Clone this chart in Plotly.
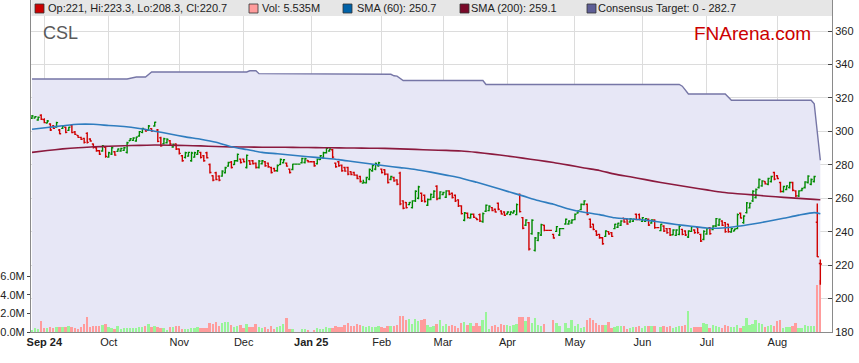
import pandas as pd
import plotly.graph_objects as go

# ---------------- data ----------------
start_date = "2024-08-27"
end_date = "2025-08-21"

opens = [
    307.8, 308.0, 306.8, 309.6, 307.0, 305.0, 304.4, 303.2, 302.6, 300.8,
    301.8, 302.4, 300.6, 303.4, 299.6, 297.6, 296.4, 295.8, 298.8, 295.4,
    292.4, 290.2, 288.4, 288.2, 290.4, 284.6, 286.4, 287.8, 288.0, 288.2,
    288.6, 287.4, 294.4, 294.6, 294.2, 297.2, 299.4, 301.2, 300.6, 301.6,
    303.2, 300.8, 296.2, 292.6, 293.2, 294.4, 290.6, 292.4, 289.4, 285.4,
    284.4, 285.2, 282.4, 284.6, 286.2, 287.4, 285.4, 287.2, 280.2, 273.4,
    275.2, 273.2, 273.2, 275.2, 279.2, 281.6, 280.2, 282.4, 283.4, 283.4,
    278.4, 282.4, 282.4, 281.0, 278.4, 280.6, 281.8, 281.0, 278.4, 277.8,
    276.4, 280.2, 281.2, 281.0, 277.4, 277.2, 280.4, 280.4, 281.2, 281.4,
    282.6, 281.8, 281.8, 280.6, 283.2, 284.4, 287.2, 288.2, 289.0, 281.0,
    281.8, 279.8, 278.4, 278.4, 275.8, 275.4, 273.8, 273.0, 269.0, 269.2,
    271.4, 276.4, 277.4, 279.4, 277.4, 277.0, 274.4, 271.2, 272.4, 271.0,
    275.0, 258.4, 257.4, 256.2, 254.4, 258.4, 260.0, 263.0, 261.8, 255.8,
    259.2, 260.6, 267.2, 260.0, 262.2, 260.6, 264.4, 263.0, 261.8, 259.0,
    255.4, 246.8, 251.0, 248.2, 250.4, 248.0, 250.2, 246.0, 252.2, 252.6,
    254.4, 253.4, 257.0, 252.4, 251.8, 250.6, 250.2, 251.2, 250.2, 262.2,
    248.4, 243.8, 245.4, 238.8, 228.8, 234.8, 238.0, 243.8, 240.8, 240.8,
    238.4, 240.2, 238.0, 241.8, 244.6, 244.6, 245.2, 247.2, 251.2, 253.2,
    256.2, 256.4, 247.4, 244.4, 240.4, 238.4, 236.4, 237.2, 240.0, 239.4,
    241.8, 242.6, 243.8, 248.0, 247.4, 245.8, 246.2, 250.4, 250.2, 246.2,
    246.2, 247.4, 245.2, 247.0, 242.4, 240.6, 243.4, 241.8, 241.8, 238.2,
    237.8, 238.4, 241.4, 240.4, 236.8, 240.2, 241.0, 242.4, 238.4, 235.4,
    238.6, 242.4, 241.2, 243.4, 244.0, 246.4, 245.4, 244.4, 239.8, 240.4,
    241.8, 251.0, 245.4, 251.4, 254.2, 258.4, 260.4, 266.4, 267.4, 270.0,
    268.4, 270.0, 275.4, 273.4, 269.4, 264.0, 265.2, 266.4, 269.4, 264.4,
    261.4, 264.6, 266.4, 269.4, 268.4, 270.0, 245.6, 221.0,
]
highs = [
    309.8, 309.2, 308.8, 310.2, 307.8, 306.8, 304.8, 303.8, 305.8, 301.4,
    303.8, 302.8, 302.8, 303.8, 300.2, 297.8, 296.8, 296.2, 299.4, 295.8,
    292.8, 290.8, 288.8, 291.8, 290.8, 287.8, 290.8, 288.2, 289.8, 290.2,
    290.6, 293.8, 295.8, 296.4, 296.8, 300.2, 302.2, 301.4, 303.8, 301.8,
    305.8, 301.4, 296.8, 296.2, 295.8, 294.8, 292.8, 292.8, 289.8, 285.8,
    287.8, 287.8, 287.8, 287.8, 288.8, 287.8, 285.8, 287.8, 280.8, 273.8,
    275.8, 273.8, 276.8, 278.8, 281.8, 282.2, 282.8, 286.8, 283.8, 283.8,
    286.2, 282.8, 282.8, 281.4, 282.8, 282.8, 282.2, 281.4, 278.8, 278.2,
    280.2, 283.8, 283.4, 281.4, 277.8, 280.6, 280.4, 280.4, 284.2, 284.2,
    282.8, 281.8, 282.2, 283.8, 285.8, 287.8, 290.2, 289.8, 289.4, 281.4,
    282.2, 280.2, 278.8, 278.8, 276.2, 275.8, 274.2, 273.4, 271.0, 272.8,
    277.8, 280.2, 281.4, 281.8, 277.8, 277.4, 274.8, 273.4, 272.8, 271.4,
    275.8, 258.8, 257.8, 257.8, 258.8, 264.8, 267.4, 263.4, 262.2, 259.8,
    262.8, 264.8, 267.8, 264.2, 263.8, 264.8, 264.8, 263.4, 262.2, 259.4,
    255.8, 251.8, 251.4, 250.8, 250.8, 248.2, 250.8, 251.4, 256.2, 255.8,
    254.8, 253.8, 257.4, 252.8, 252.2, 252.2, 252.2, 252.8, 256.8, 262.8,
    248.8, 247.4, 245.8, 247.4, 236.8, 239.8, 244.8, 244.2, 240.8, 240.8,
    238.8, 243.4, 242.2, 241.8, 247.8, 246.8, 247.4, 250.8, 252.8, 256.8,
    258.8, 256.8, 247.8, 244.8, 240.8, 238.8, 236.8, 240.8, 240.2, 239.8,
    244.8, 245.4, 246.8, 248.2, 247.8, 248.2, 247.8, 250.8, 250.8, 248.8,
    248.2, 247.8, 247.4, 247.4, 242.4, 244.8, 243.8, 242.2, 242.2, 241.4,
    241.4, 243.8, 241.8, 240.8, 240.8, 243.4, 241.4, 242.8, 238.8, 240.8,
    242.2, 242.8, 243.8, 248.2, 247.8, 246.8, 245.8, 244.8, 242.2, 241.8,
    250.8, 251.4, 249.8, 257.8, 257.4, 264.8, 265.8, 271.8, 270.8, 270.2,
    272.2, 273.4, 275.8, 273.8, 269.8, 267.4, 267.8, 269.8, 269.8, 264.8,
    264.8, 266.2, 270.2, 273.8, 271.8, 273.4, 256.8, 223.3,
]
lows = [
    307.4, 307.8, 306.4, 306.8, 304.8, 304.8, 300.2, 301.4, 302.2, 298.2,
    301.4, 298.8, 300.2, 298.8, 297.8, 296.2, 294.8, 292.8, 292.8, 293.8,
    289.8, 287.8, 285.8, 287.8, 284.2, 284.2, 285.8, 285.4, 287.8, 287.8,
    288.2, 286.8, 294.2, 294.2, 293.8, 296.8, 298.8, 299.8, 300.2, 299.8,
    302.8, 293.4, 290.8, 292.2, 292.8, 291.8, 290.2, 288.8, 286.2, 281.8,
    283.8, 284.8, 281.8, 284.2, 285.8, 283.8, 281.8, 283.8, 274.8, 270.2,
    270.8, 270.2, 272.8, 274.8, 278.8, 277.8, 279.8, 281.8, 280.8, 281.4,
    277.8, 279.8, 280.2, 277.8, 277.8, 280.2, 278.8, 278.2, 274.8, 275.8,
    275.8, 279.8, 280.8, 278.8, 274.8, 276.8, 280.4, 280.4, 280.8, 280.8,
    281.4, 281.8, 278.8, 280.2, 282.8, 283.8, 286.8, 287.8, 283.8, 278.2,
    278.8, 275.8, 275.8, 273.8, 273.8, 273.4, 271.4, 269.4, 268.8, 268.8,
    270.8, 275.8, 276.8, 278.8, 274.8, 273.8, 268.8, 270.8, 269.8, 267.8,
    255.8, 253.4, 253.8, 255.8, 253.8, 257.8, 259.4, 257.8, 257.4, 255.4,
    258.8, 260.2, 258.8, 259.4, 261.8, 260.2, 261.8, 259.8, 257.8, 254.8,
    250.2, 246.2, 247.8, 247.8, 248.2, 246.8, 245.8, 245.4, 251.8, 252.2,
    252.2, 251.4, 252.8, 250.2, 249.4, 250.2, 249.8, 250.8, 249.8, 251.4,
    241.4, 243.4, 228.8, 238.2, 228.2, 234.2, 237.4, 240.2, 240.8, 240.8,
    235.8, 239.8, 237.4, 241.8, 244.2, 244.2, 244.8, 246.8, 250.8, 252.8,
    255.8, 249.8, 242.2, 240.8, 237.4, 235.8, 232.2, 236.8, 238.2, 236.8,
    241.4, 242.2, 243.4, 245.4, 244.2, 245.4, 245.8, 246.8, 246.8, 245.8,
    245.8, 243.4, 244.8, 241.8, 242.4, 240.2, 239.8, 238.8, 237.4, 237.8,
    237.4, 237.8, 237.8, 237.4, 236.2, 239.8, 238.8, 238.8, 233.8, 234.8,
    238.2, 238.2, 240.8, 242.8, 243.4, 243.4, 239.4, 239.4, 239.4, 240.2,
    241.4, 247.8, 244.8, 250.8, 253.8, 257.8, 259.8, 265.8, 266.8, 268.2,
    267.8, 269.4, 270.8, 271.4, 263.4, 263.4, 264.8, 265.8, 264.2, 260.8,
    260.8, 264.2, 265.8, 268.8, 267.8, 269.4, 224.8, 208.3,
]
closes = [
    309.2, 308.8, 308.4, 307.2, 305.2, 306.2, 300.8, 301.8, 305.2, 298.6,
    303.2, 299.4, 302.4, 299.2, 298.2, 296.4, 295.2, 293.4, 293.4, 294.2,
    290.4, 288.4, 286.4, 291.2, 285.0, 287.2, 290.2, 285.8, 289.4, 289.8,
    290.2, 293.2, 295.6, 296.0, 296.6, 299.8, 301.8, 300.2, 303.2, 300.2,
    305.4, 294.0, 291.4, 295.6, 295.2, 292.4, 292.2, 289.4, 286.8, 282.4,
    287.2, 287.4, 287.0, 287.2, 288.4, 284.4, 282.4, 284.2, 275.4, 270.8,
    271.2, 270.8, 276.2, 278.2, 281.4, 278.4, 282.4, 286.2, 281.4, 281.8,
    285.6, 280.4, 280.6, 278.4, 282.2, 282.4, 279.4, 278.8, 275.4, 276.4,
    279.6, 283.2, 283.0, 279.2, 275.4, 280.4, 280.4, 280.4, 283.8, 283.6,
    281.8, 281.8, 279.4, 283.4, 285.4, 287.2, 289.8, 289.4, 284.6, 278.8,
    279.4, 276.4, 276.2, 274.4, 274.2, 273.8, 271.8, 270.0, 269.4, 272.4,
    277.2, 279.6, 280.8, 281.2, 275.4, 274.4, 269.4, 273.0, 270.4, 268.4,
    256.6, 254.0, 254.4, 257.4, 258.4, 264.2, 266.8, 258.4, 258.0, 259.2,
    262.2, 264.2, 259.6, 263.8, 263.4, 264.4, 262.4, 260.4, 258.4, 255.4,
    250.8, 251.2, 248.4, 250.4, 248.6, 247.2, 246.4, 250.8, 255.8, 255.2,
    252.6, 251.8, 253.4, 250.6, 249.8, 251.8, 251.8, 252.4, 256.2, 252.0,
    242.0, 247.0, 229.6, 246.8, 236.2, 239.2, 244.2, 240.8, 240.8, 240.8,
    236.2, 243.0, 241.8, 241.8, 247.4, 246.4, 247.0, 250.4, 252.4, 256.4,
    258.4, 250.4, 242.8, 241.4, 238.0, 236.4, 232.8, 240.4, 238.6, 237.2,
    244.4, 245.0, 246.4, 245.8, 244.6, 247.8, 247.4, 247.2, 247.4, 248.4,
    247.8, 244.0, 247.0, 242.4, 242.4, 244.4, 240.4, 239.4, 238.0, 241.0,
    241.0, 243.2, 238.4, 238.0, 240.4, 243.0, 239.4, 239.4, 234.4, 240.2,
    241.8, 238.8, 243.4, 247.8, 247.4, 243.8, 240.0, 240.0, 241.8, 241.6,
    250.2, 248.2, 249.4, 257.2, 257.0, 264.2, 265.2, 271.2, 270.4, 268.6,
    271.8, 273.0, 271.4, 271.8, 264.0, 267.0, 267.4, 269.4, 264.8, 261.4,
    264.4, 265.8, 269.8, 273.2, 271.2, 273.0, 225.0, 220.7,
]
volume_m = [
    0.21, 0.43, 0.32, 1.2, 0.43, 0.39, 0.53, 0.43, 0.53, 0.53,
    0.53, 0.53, 0.64, 0.53, 0.43, 0.35, 0.53, 0.85, 1.6, 0.53,
    0.64, 0.64, 0.64, 0.71, 0.85, 0.53, 0.43, 0.35, 0.64, 0.35,
    0.43, 0.43, 0.43, 0.43, 0.43, 0.53, 0.53, 0.64, 0.85, 0.53,
    0.64, 0.53, 0.43, 0.43, 0.25, 0.53, 0.53, 0.64, 0.64, 0.28,
    0.35, 0.28, 0.43, 0.43, 0.53, 0.43, 0.43, 0.43, 0.96, 0.85,
    1.06, 0.64, 0.96, 1.06, 1.06, 0.74, 0.53, 0.64, 0.74, 0.43,
    0.85, 0.53, 0.53, 0.85, 0.53, 0.43, 0.53, 0.28, 0.64, 0.28,
    0.53, 0.64, 0.85, 1.49, 0.32, 0.28, 0.0, 0.0, 0.32, 0.32,
    0.21, 0.0, 0.21, 0.43, 0.32, 0.32, 0.53, 0.43, 0.43, 0.64,
    0.53, 0.53, 0.74, 0.96, 0.64, 0.64, 0.85, 0.74, 0.64, 0.53,
    0.64, 0.53, 0.53, 0.64, 0.53, 0.43, 0.64, 0.64, 0.64, 0.74,
    1.7, 1.7, 1.28, 1.38, 0.85, 1.38, 1.17, 1.28, 1.38, 0.74,
    0.5, 0.6, 0.85, 1.28, 0.64, 0.85, 0.64, 0.71, 0.6, 0.43,
    0.96, 1.06, 0.74, 0.96, 0.64, 0.96, 0.64, 1.28, 2.15, 0.32,
    0.64, 0.74, 0.53, 0.85, 0.71, 0.71, 0.6, 0.71, 0.85, 1.6,
    1.6, 1.17, 1.6, 0.96, 1.49, 0.74, 0.6, 0.85, 0.0, 0.0,
    1.28, 0.92, 0.64, 0.0, 0.96, 0.46, 1.28, 0.64, 0.85, 0.46,
    0.5, 1.28, 1.49, 1.28, 0.96, 0.74, 0.74, 0.74, 1.06, 0.46,
    0.57, 0.6, 0.64, 0.6, 0.32, 0.39, 0.5, 0.57, 0.64, 0.43,
    0.64, 0.6, 0.6, 0.6, 0.0, 0.53, 0.6, 0.5, 0.6, 0.43,
    0.5, 0.6, 0.64, 0.71, 2.2, 0.43, 0.5, 0.5, 0.53, 1.0,
    0.85, 0.46, 0.78, 0.6, 0.5, 0.43, 0.74, 0.6, 0.53, 0.5,
    0.71, 0.46, 0.6, 1.49, 0.78, 0.85, 1.28, 0.96, 0.85, 0.57,
    0.6, 0.74, 0.64, 1.17, 1.24, 0.46, 0.5, 0.57, 0.64, 0.96,
    0.46, 0.43, 0.78, 0.6, 0.6, 0.6, 5.0, 5.535,
]
# moving averages read every 5 trading days (plus the last day)
sma60 = [301.2, 302.3, 303.3, 304.2, 304.2, 303.5, 302.9, 301.7, 300.1, 298.4,
         296.7, 295.3, 293.5, 290.8, 289.1, 287.4, 286.6, 285.7, 284.8, 284.0,
         283.1, 281.8, 280.6, 279.4, 278.3, 277.2, 275.6, 273.8, 272.0, 269.5,
         266.9, 264.1, 261.4, 258.6, 256.4, 253.6, 251.6, 250.2, 248.3, 247.6,
         246.9, 245.6, 244.3, 243.2, 242.2, 242.2, 243.2, 244.6, 246.2, 248.0,
         249.9, 251.4, 250.7]
sma200 = [287.4, 288.5, 289.5, 290.2, 290.8, 291.1, 291.4, 291.6, 291.8, 291.7,
          291.5, 291.3, 290.9, 290.7, 290.6, 290.5, 290.5, 290.4, 290.3, 290.2,
          290.1, 290.0, 289.9, 289.8, 289.5, 289.2, 288.8, 288.6, 288.2, 287.4,
          286.4, 285.2, 284.0, 282.7, 281.4, 279.8, 278.1, 276.6, 274.4, 272.8,
          271.1, 269.4, 267.9, 266.4, 265.0, 263.6, 262.7, 262.0, 261.2, 260.5,
          259.9, 259.3, 259.1]
# consensus target changes
cons_dates = ["2024-08-27", "2024-10-09", "2024-10-14", "2024-10-17", "2024-10-21",
              "2024-12-03", "2024-12-04", "2024-12-06", "2024-12-09", "2025-01-16",
              "2025-01-17", "2025-02-06", "2025-02-07", "2025-02-10", "2025-02-12",
              "2025-03-20", "2025-03-21", "2025-06-18", "2025-06-19", "2025-06-23",
              "2025-07-09", "2025-07-11", "2025-08-18", "2025-08-19", "2025-08-21"]
cons_values = [331.3, 331.3, 332.5, 332.5, 335.5,
               335.5, 336.2, 336.2, 334.5, 334.5,
               334.1, 334.1, 333.2, 333.0, 330.4,
               330.4, 328.0, 328.0, 327.0, 322.3,
               322.3, 318.6, 318.6, 316.5, 282.7]
price_ticks = [180, 200, 220, 240, 260, 280, 300, 320, 340, 360]
vol_ticks_m = [0, 2, 4, 6]
vol_tick_text = ["0.0M", "2.0M", "4.0M", "6.0M"]
legend_texts = ["Op:221, Hi:223.3, Lo:208.3, Cl:220.7", "Vol: 5.535M",
                "SMA (60): 250.7", "SMA (200): 259.1", "Consensus Target: 0 - 282.7"]

# ---------------- build ----------------
dates = pd.bdate_range(start_date, end_date)
n = len(closes)
xi = list(range(n))
pos = {d.strftime("%Y-%m-%d"): i for i, d in enumerate(dates)}
cons_x = [pos[d] for d in cons_dates]
sma_x = list(range(0, n - 2, 5)) + [n - 1]

volume = [v * 1e6 for v in volume_m]
vol_colors = ["#99F599" if c >= o else "#FF9C9C" for o, c in zip(opens, closes)]

tickvals, ticktext = [], []
for i in range(1, len(dates)):
    if dates[i].month != dates[i - 1].month:
        d = dates[i]
        lab = d.strftime("%b")
        if not tickvals or d.month == 1:
            lab = "<b>%s %s</b>" % (lab, d.strftime("%y"))
        tickvals.append(i)
        ticktext.append(lab)

W, H = 859, 363
L, R, T, B = 31, 27, 0, 31
PW, PH = W - L - R, H - T - B
px_per_price = 1.6722
px_per_m = 9.333
price_range = [180, 180 + PH / px_per_price]
vol_range = [0, PH / px_per_m * 1e6]

FONT = "Liberation Sans, Arial, sans-serif"

fig = go.Figure()
fig.add_trace(go.Scatter(x=cons_x, y=cons_values, mode="lines", fill="tozeroy",
                         fillcolor="#E7E7F6", line=dict(color="#7676A6", width=1.4),
                         yaxis="y", hoverinfo="skip", showlegend=False))
fig.add_trace(go.Bar(x=xi, y=volume, marker=dict(color=vol_colors, line=dict(width=0)),
                     width=0.62, yaxis="y2", showlegend=False))
fig.add_trace(go.Scatter(x=sma_x, y=sma200, mode="lines",
                         line=dict(color="#8B1A3E", width=1.6, shape="spline", smoothing=0.6),
                         yaxis="y3", showlegend=False))
fig.add_trace(go.Scatter(x=sma_x, y=sma60, mode="lines",
                         line=dict(color="#2F7DBF", width=1.6, shape="spline", smoothing=0.6),
                         yaxis="y3", showlegend=False))
fig.add_trace(go.Ohlc(x=xi, open=opens, high=highs, low=lows, close=closes,
                      increasing=dict(line=dict(color="#008A00", width=1.4)),
                      decreasing=dict(line=dict(color="#D00000", width=1.4)),
                      tickwidth=0.5, yaxis="y3", showlegend=False))

def xp(px):
    return (px - L) / PW

def yp(py):
    return 1 - (py - T) / PH

shapes = [dict(type="rect", xref="paper", yref="paper", x0=xp(L + 0.5), x1=1,
               y0=yp(16), y1=1, fillcolor="#E6E6E6", line=dict(width=0), layer="above")]
sq_colors = ["#CC0000", "#FF9C9C", "#0062A8", "#7A0A2A", "#5E5E96"]
sq_left = [35, 249, 343, 460, 587]
txt_left = [46, 260, 355, 469, 596]
annotations = []
for c, sl, tl, t in zip(sq_colors, sq_left, txt_left, legend_texts):
    shapes.append(dict(type="rect", xref="paper", yref="paper", x0=xp(sl), x1=xp(sl + 9),
                       y0=yp(13), y1=yp(4), fillcolor=c,
                       line=dict(color="#333333", width=0.8), layer="above"))
    annotations.append(dict(xref="paper", yref="paper", x=xp(tl), y=yp(8.5),
                            xanchor="left", yanchor="middle", showarrow=False, text=t,
                            font=dict(family=FONT, size=11, color="#222222")))
annotations.append(dict(xref="paper", yref="paper", x=xp(41), y=yp(33),
                        xanchor="left", yanchor="middle", showarrow=False, text="CSL",
                        font=dict(family=FONT, size=18, color="#5A5A5A")))
annotations.append(dict(xref="paper", yref="paper", x=xp(692), y=yp(33),
                        xanchor="left", yanchor="middle", showarrow=False, text="FNArena.com",
                        font=dict(family=FONT, size=19, color="#CC0000")))

fig.update_layout(
    width=W, height=H, margin=dict(l=L, r=R, t=T, b=B, autoexpand=False),
    paper_bgcolor="white", plot_bgcolor="white",
    font=dict(family=FONT, size=11, color="#222222"),
    showlegend=False, bargap=0,
    xaxis=dict(range=[-0.33, 260.8], tickmode="array", tickvals=tickvals, ticktext=ticktext,
               showgrid=True, gridcolor="#DCDCDC", gridwidth=1, zeroline=False,
               showline=True, linecolor="#8A8A8A", linewidth=1, ticks="", ticklen=0,
               tickfont=dict(size=11, color="#222222"), rangeslider=dict(visible=False),
               automargin=False, fixedrange=True),
    yaxis=dict(side="right", range=price_range, tickmode="array", tickvals=price_ticks,
               showgrid=True, gridcolor="#DCDCDC", gridwidth=1, zeroline=False,
               showline=True, linecolor="#8A8A8A", linewidth=1,
               ticks="inside", ticklen=4, tickcolor="#444444", automargin=False,
               tickfont=dict(size=11, color="#222222")),
    yaxis2=dict(overlaying="y", side="left", range=vol_range, tickmode="array",
                tickvals=[v * 1e6 for v in vol_ticks_m], ticktext=vol_tick_text,
                showgrid=False, zeroline=False, showline=True, linecolor="#8A8A8A",
                linewidth=1, ticks="outside", ticklen=3, tickcolor="#444444",
                automargin=False, tickfont=dict(size=11, color="#222222")),
    yaxis3=dict(overlaying="y", side="right", range=price_range, visible=False,
                showgrid=False, zeroline=False, automargin=False),
    shapes=shapes, annotations=annotations,
)

fig.write_html("out.html", config={"displayModeBar": False},
               post_script="document.body.style.margin='0';document.body.style.overflow='hidden';")
